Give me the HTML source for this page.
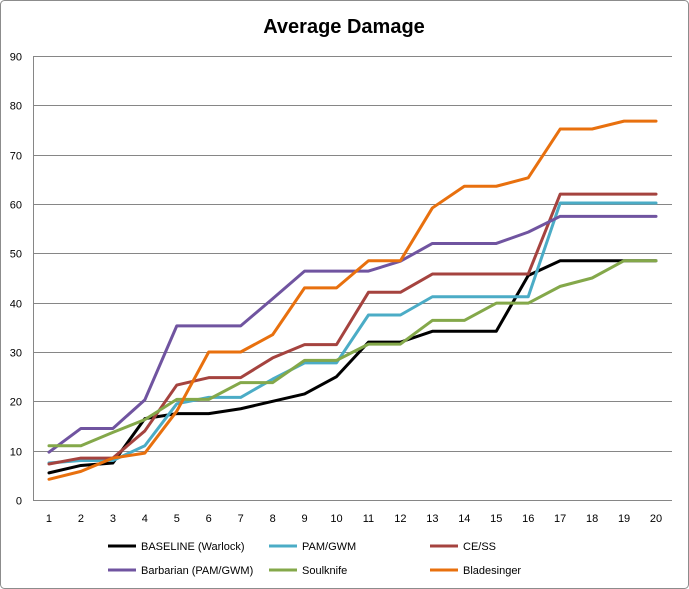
<!DOCTYPE html>
<html><head><meta charset="utf-8"><style>
body{margin:0;background:#fff;font-family:"Liberation Sans",sans-serif;}
svg{display:block}
</style></head><body>
<svg id="chart" width="689" height="589">
<rect x="0.5" y="0.5" width="688" height="588" rx="4" fill="#fff" stroke="#8c8c8c"/>
<text x="344" y="33" text-anchor="middle" font-size="20" font-weight="bold" fill="#000">Average Damage</text>
<g id="grid"></g><g id="series"></g><g id="legend"></g>
</svg>
<script>
const categories=[1,2,3,4,5,6,7,8,9,10,11,12,13,14,15,16,17,18,19,20];
const yTicks=[0,10,20,30,40,50,60,70,80,90];
const seriesNames=["BASELINE (Warlock)","PAM/GWM","CE/SS","Barbarian (PAM/GWM)","Soulknife","Bladesinger"];
const baseline=[5.5,7,7.5,16.5,17.5,17.5,18.5,20,21.5,25,32,32,34.2,34.2,34.2,45.5,48.5,48.5,48.5,48.5];
const pamGwm=[7.5,8,8,11,19.5,20.8,20.8,24.5,27.8,27.8,37.5,37.5,41.2,41.2,41.2,41.2,60.2,60.2,60.2,60.2];
const ceSs=[7.3,8.5,8.5,14,23.3,24.8,24.8,28.8,31.5,31.5,42.1,42.1,45.8,45.8,45.8,45.8,62,62,62,62];
const barbarian=[9.7,14.5,14.5,20.3,35.3,35.3,35.3,40.8,46.4,46.4,46.4,48.4,52,52,52,54.3,57.5,57.5,57.5,57.5];
const soulknife=[11,11,13.7,16.3,20.4,20.4,23.8,23.8,28.3,28.3,31.6,31.6,36.4,36.4,39.9,39.9,43.3,45,48.5,48.5];
const bladesinger=[4.2,5.8,8.5,9.5,18,30,30,33.5,43,43,48.5,48.5,59.2,63.6,63.6,65.3,75.2,75.2,76.8,76.8];
const NS="http://www.w3.org/2000/svg";
const L=33,R=672,T=56,B=500,yMax=90;
const xS=i=>L+(R-L)/categories.length*(i+0.5);
const yS=v=>B-(B-T)*v/yMax;
function mk(tag,attrs,parent){const e=document.createElementNS(NS,tag);for(const k in attrs)e.setAttribute(k,attrs[k]);parent.appendChild(e);return e;}
const grid=document.getElementById('grid');
yTicks.forEach(t=>{
  const y=Math.round(yS(t))+0.5;
  const ln=mk('line',{x1:L,x2:R,y1:y,y2:y,stroke:'#868686','stroke-width':1},grid);
  
  
  const tx=mk('text',{x:22,y:y+4,'text-anchor':'end','font-size':11,fill:'#000'},grid);
  tx.textContent=t;
  
  
});
const ax=mk('line',{x1:L+0.5,x2:L+0.5,y1:T,y2:B,stroke:'#868686'},grid);


categories.forEach((c,i)=>{
  const tx=mk('text',{x:xS(i),y:522,'text-anchor':'middle','font-size':11,fill:'#000'},grid);
  tx.textContent=c;
  
  
});
const data=[baseline,pamGwm,ceSs,barbarian,soulknife,bladesinger];
const colors=['#000000','#4bacc6','#a5433f','#7054a0','#84a84a','#e8700e'];
const keys=['baseline','pam-gwm','ce-ss','barbarian','soulknife','bladesinger'];
const sg=document.getElementById('series');
data.forEach((d,k)=>{
  const p=mk('polyline',{points:d.map((v,i)=>xS(i)+','+yS(v)).join(' '),fill:'none',stroke:colors[k],'stroke-width':3,'stroke-linejoin':'round','stroke-linecap':'round'},sg);
  
  
});
const lg=document.getElementById('legend');
const lx=[108,269,430],ly=[546,570];
seriesNames.forEach((n,k)=>{
  const x=lx[k%3],y=ly[Math.floor(k/3)];
  const g=mk('g',{},lg);
  
  
  mk('line',{x1:x,x2:x+28,y1:y,y2:y,stroke:colors[k],'stroke-width':3},g);
  const t=mk('text',{x:x+33,y:y+4,'font-size':11,fill:'#000'},g);
  t.textContent=n;
});
</script>
</body></html>
